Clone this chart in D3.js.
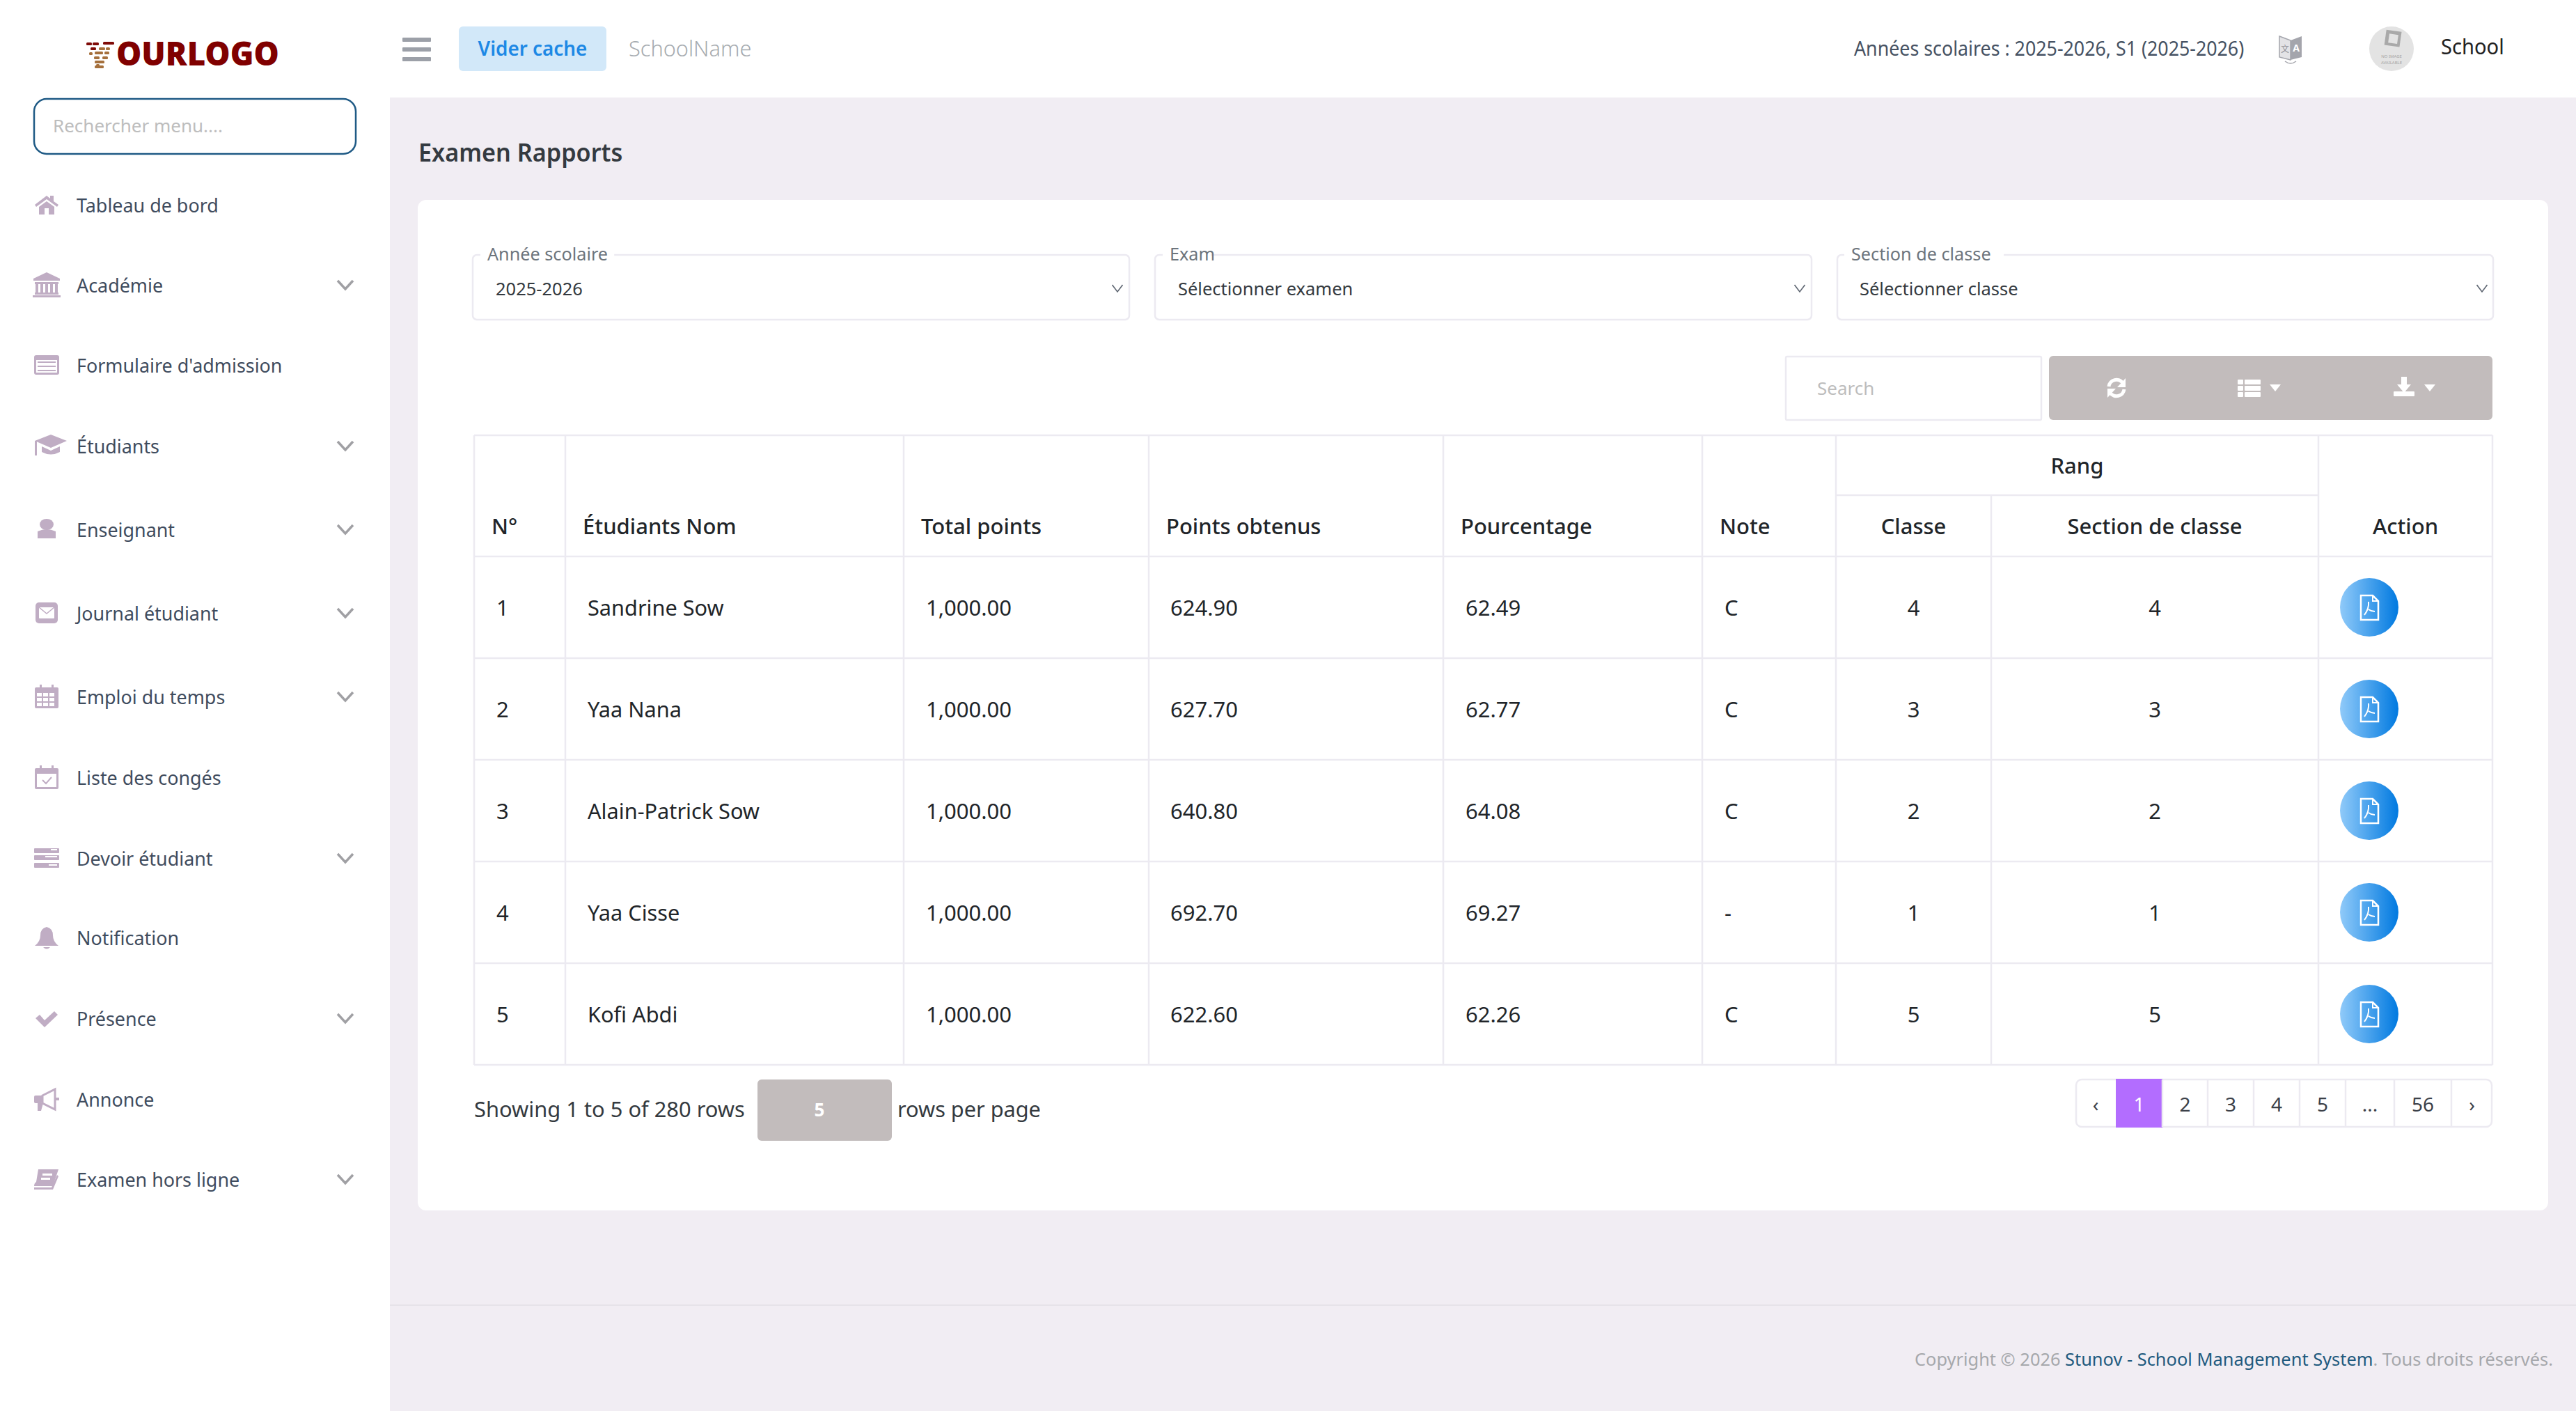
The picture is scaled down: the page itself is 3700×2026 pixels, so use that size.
<!DOCTYPE html>
<html>
<head>
<meta charset="utf-8">
<script src="https://cdn.jsdelivr.net/npm/d3@7"></script>
<style>
  html, body { margin: 0; padding: 0; background: #f1edf3; }
  svg { display: block; }
  text { font-family: "Noto Sans", sans-serif; }
</style>
</head>
<body>
<script>
// table values
const rowNumbers = [1, 2, 3, 4, 5];
const studentNames = ["Sandrine Sow", "Yaa Nana", "Alain-Patrick Sow", "Yaa Cisse", "Kofi Abdi"];
const totalPoints = [1000, 1000, 1000, 1000, 1000];
const obtainedPoints = [624.9, 627.7, 640.8, 692.7, 622.6];
const percentages = [62.49, 62.77, 64.08, 69.27, 62.26];
const notes = ["C", "C", "C", "-", "C"];
const classRanks = [4, 3, 2, 1, 5];
const sectionRanks = [4, 3, 2, 1, 5];

const columnKeys = ["num", "name", "total", "obtained", "pct", "note", "classe", "section", "action"];
const columnLabels = ["N°", "Étudiants Nom", "Total points", "Points obtenus", "Pourcentage", "Note", "Classe", "Section de classe", "Action"];

const menuLabels = ["Tableau de bord", "Académie", "Formulaire d'admission", "Étudiants", "Enseignant", "Journal étudiant", "Emploi du temps", "Liste des congés", "Devoir étudiant", "Notification", "Présence", "Annonce", "Examen hors ligne"];
const menuIcons = ["home", "bank", "form", "grad", "user", "mail", "calendar", "leave", "tasks", "bell", "check", "horn", "book"];
const menuHasChevron = [false, true, false, true, true, true, true, false, true, false, true, false, true];

const pageLabels = ["‹", "1", "2", "3", "4", "5", "...", "56", "›"];

const W = 3700, H = 2026;
const lilac = "#c0adc4", line = "#eceaf1", dark = "#212529", menuText = "#3f4c5e";

const svg = d3.select("body").append("svg").attr("width", W).attr("height", H);

const defs = svg.append("defs");
const grad = defs.append("linearGradient").attr("id", "pdfGrad");
grad.append("stop").attr("offset", "0%").attr("stop-color", "#90caf9");
grad.append("stop").attr("offset", "100%").attr("stop-color", "#0079e0");

// opts.sx squeezes the text sideways, the reference font runs narrower than Noto Sans
function txt(parent, x, y, str, size, fill, opts) {
  opts = opts || {};
  const t = parent.append("text")
    .attr("x", x).attr("y", y + 1)
    .attr("dy", "0.35em")
    .attr("font-size", size)
    .attr("fill", fill)
    .attr("font-weight", opts.weight || 400)
    .attr("text-anchor", opts.anchor || "start")
    .text(str);
  if (opts.sx) {
    t.attr("textLength", t.node().getComputedTextLength() * opts.sx)
      .attr("lengthAdjust", "spacingAndGlyphs");
  }
  return t;
}

function box(parent, x0, y0, x1, y1, fill, r, stroke, sw) {
  return parent.append("rect")
    .attr("x", x0).attr("y", y0)
    .attr("width", x1 - x0).attr("height", y1 - y0)
    .attr("rx", r || 0)
    .attr("fill", fill)
    .attr("stroke", stroke || "none")
    .attr("stroke-width", sw || 0);
}

function chevron(parent, cx, cy, w, h, color, sw) {
  parent.append("path")
    .attr("d", `M${cx - w / 2},${cy - h / 2}L${cx},${cy + h / 2}L${cx + w / 2},${cy - h / 2}`)
    .attr("fill", "none").attr("stroke", color).attr("stroke-width", sw);
}

// background panels
box(svg, 0, 0, W, H, "#f1edf3");
box(svg, 0, 0, 560, H, "#ffffff");
box(svg, 0, 0, W, 140, "#ffffff");
svg.append("line").attr("x1", 560).attr("x2", W).attr("y1", 1874).attr("y2", 1874).attr("stroke", "#e6e3e9").attr("stroke-width", 2);
box(svg, 600, 287, 3660, 1738, "#ffffff", 12);

// logo
const logo = svg.append("g");
const brickRows = [[124, 61, 8], [133, 61, 9], [148, 60, 16], [130, 68, 8], [142, 68, 9], [152, 68, 6], [128, 75, 5], [136, 74, 12], [150, 74, 7], [135, 81, 8], [147, 81, 8], [136, 87, 14], [136, 94, 13], [138, 92, 5]];
logo.selectAll("rect").data(brickRows).enter().append("rect")
  .attr("x", d => d[0]).attr("y", d => d[1]).attr("width", d => d[2]).attr("height", 4).attr("rx", 1.5)
  .attr("fill", (d, i) => i < 4 ? "#7f0b08" : "#a5703c");
txt(logo, 167, 76, "OURLOGO", 48, "#800000", { weight: 900, sx: 0.95 });

// top bar
d3.range(3).forEach(i => box(svg, 578, 54 + i * 14, 619, 60 + i * 14, "#9ca0a8", 1));
box(svg, 659, 38, 871, 102, "#d2e8f9", 6);
txt(svg, 765, 69, "Vider cache", 29, "#1e88e5", { weight: 600, anchor: "middle", sx: 0.96 });
txt(svg, 903, 69, "SchoolName", 32, "#a6abb0", { weight: 300, sx: 0.96 });
txt(svg, 2663, 69, "Années scolaires : 2025-2026, S1 (2025-2026)", 28.5, "#465263", { sx: 0.94 });

// translate icon
const tr = svg.append("g").attr("transform", "translate(3290,70)");
tr.append("path").attr("d", "M-16,-18L0,-12L0,16L-16,12Z").attr("fill", "#e3e3e6").attr("stroke", "#a4a5ac").attr("stroke-width", 1.5);
tr.append("path").attr("d", "M0,-12L16,-18L16,12L0,16Z").attr("fill", "#a4a5ac");
txt(tr, 8, -2, "A", 14, "#ffffff", { weight: 700, anchor: "middle" });
txt(tr, -8, 0, "文", 12, "#8f9097", { anchor: "middle" }).style("font-family", "'Noto Sans CJK SC'");
tr.append("path").attr("d", "M-8,18Q0,24 8,18").attr("fill", "none").attr("stroke", "#a4a5ac").attr("stroke-width", 1.5);

// avatar
const av = svg.append("g").attr("transform", "translate(3435,70)");
av.append("circle").attr("r", 32).attr("fill", "#e3e3e3");
av.append("rect").attr("x", -11).attr("y", -26).attr("width", 22).attr("height", 22).attr("fill", "#a9a9a9").attr("transform", "rotate(8)");
av.append("rect").attr("x", -6).attr("y", -21).attr("width", 13).attr("height", 13).attr("fill", "#e3e3e3").attr("transform", "rotate(8)");
txt(av, 0, 10, "NO IMAGE", 6, "#a5a5a5", { anchor: "middle" });
txt(av, 0, 19, "AVAILABLE", 6, "#a5a5a5", { anchor: "middle" });
txt(svg, 3506, 66, "School", 30, "#222222", { sx: 0.97 });

// sidebar
box(svg, 49, 142, 511, 221, "#ffffff", 18, "#1f5a85", 2.5);
txt(svg, 76, 180, "Rechercher menu....", 26, "#bdbdbd");

const iconDraw = {
  home(g) {
    g.append("path").attr("d", "M-17,0L0,-13L5,-9L5,-13L10,-13L10,-5L17,0L15,3L0,-8L-15,3Z").attr("fill", lilac);
    g.append("path").attr("d", "M-11,3L0,-5L11,3L11,14L3,14L3,5L-3,5L-3,14L-11,14Z").attr("fill", lilac);
  },
  bank(g) {
    g.append("path").attr("d", "M-19,-9L0,-18L19,-9L19,-6L-19,-6Z").attr("fill", lilac);
    box(g, -17, -4, 17, -1, lilac);
    [-14, -7, 0, 7, 14].forEach(x => box(g, x - 2, -1, x + 2, 12, lilac));
    box(g, -17, 11, 17, 14, lilac);
    box(g, -20, 15, 20, 18, lilac);
  },
  form(g) {
    box(g, -18, -14, 18, 14, lilac, 3);
    box(g, -15, -7, 15, 11, "#ffffff");
    [-4, 2, 8].forEach(y => box(g, -13, y - 1, 13, y + 1, lilac));
  },
  grad(g) {
    g.append("path").attr("d", "M-17,-7L6,-16L29,-7L6,3Z").attr("fill", lilac);
    g.append("path").attr("d", "M-7,1L6,7L19,1L19,9Q6,16 -7,9Z").attr("fill", lilac);
    box(g, -17, -7, -14, 14, lilac);
  },
  user(g) {
    g.append("ellipse").attr("cx", 0).attr("cy", -7).attr("rx", 10).attr("ry", 8).attr("fill", lilac);
    g.append("path").attr("d", "M-13,3Q0,-3 13,3L13,13L-13,13Z").attr("fill", lilac);
  },
  mail(g) {
    box(g, -16, -15, 16, 15, lilac, 5);
    box(g, -11, -8, 11, 8, "#ffffff", 1);
    g.append("path").attr("d", "M-11,-8L0,1L11,-8").attr("fill", "none").attr("stroke", lilac).attr("stroke-width", 1.5);
  },
  calendar(g) {
    box(g, -17, -13, 17, 17, lilac, 2);
    box(g, -10, -17, -7, -10, lilac);
    box(g, 7, -17, 10, -10, lilac);
    [[-14, -5], [-5, -5], [4, -5], [-14, 2], [-5, 2], [4, 2], [-14, 9], [-5, 9], [4, 9]].forEach(d => box(g, d[0], d[1], d[0] + 7, d[1] + 5, "#ffffff"));
  },
  leave(g) {
    box(g, -17, -13, 17, 17, lilac, 2);
    box(g, -10, -17, -7, -10, lilac);
    box(g, 7, -17, 10, -10, lilac);
    box(g, -14, -5, 14, 14, "#ffffff");
    g.append("path").attr("d", "M-6,4L-1,9L7,0").attr("fill", "none").attr("stroke", lilac).attr("stroke-width", 2);
  },
  tasks(g) {
    [-14, -4, 7].forEach(y => box(g, -18, y, 18, y + 7, lilac, 1));
    box(g, 6, -13, 15, -11, "#ffffff");
    box(g, -2, -3, 15, -1, "#ffffff");
    box(g, 3, 9, 15, 11, "#ffffff");
  },
  bell(g) {
    g.append("path").attr("d", "M-17,12Q-9,6 -9,-3Q-9,-13 0,-15Q9,-13 9,-3Q9,6 17,12Z").attr("fill", lilac);
    g.append("path").attr("d", "M-5,14Q0,19 5,14Z").attr("fill", lilac);
  },
  check(g) {
    g.append("path").attr("d", "M-16,0L-10,-5L-3,3L11,-10L16,-5L-3,13Z").attr("fill", lilac);
  },
  horn(g) {
    box(g, -18, -5, -6, 6, lilac, 2);
    g.append("path").attr("d", "M-6,-5L12,-14L12,15L-6,6Z").attr("fill", "#ffffff").attr("stroke", lilac).attr("stroke-width", 3);
    g.append("path").attr("d", "M-13,6L-5,6L-8,17L-13,17Z").attr("fill", lilac);
    box(g, 12, -2, 18, 2, lilac);
  },
  book(g) {
    g.append("path").attr("d", "M-12,-14L17,-14L9,10L-18,10Q-18,6 -15,4Z").attr("fill", lilac);
    g.append("path").attr("d", "M-18,12L7,12L15,-6L17,-4L9,15L-18,15Z").attr("fill", lilac);
    box(g, -6, -8, 8, -5, "#ffffff");
    box(g, -8, -2, 5, 1, "#ffffff");
  }
};

const menuY = d3.scaleOrdinal().domain(menuLabels)
  .range([294, 409, 524, 640, 760, 880, 1000, 1116, 1232, 1346, 1462, 1578, 1693]);

const menu = svg.selectAll(".menu").data(menuLabels).enter().append("g")
  .attr("class", "menu")
  .attr("transform", d => `translate(0,${menuY(d)})`);

menu.each(function (d, i) {
  const g = d3.select(this);
  iconDraw[menuIcons[i]](g.append("g").attr("transform", "translate(67,0)"));
  txt(g, 110, 0, d, 28, menuText, { sx: 0.96 });
  if (menuHasChevron[i]) chevron(g, 496, 0, 22, 12, "#a0a0a4", 3.5);
});

// page title
txt(svg, 601, 218, "Examen Rapports", 36, "#343a40", { weight: 600, sx: 0.95 });

// filter fields
function field(x0, x1, label, value, labelX, valueX, chevX) {
  const g = svg.append("g");
  box(g, x0, 366, x1, 459, "none", 6, line, 2.5);
  const w = label.length * 12.3;
  box(g, labelX - 10, 358, labelX + w + 10, 372, "#ffffff");
  txt(g, labelX, 364, label, 26, "#6d757d", { sx: 0.97 });
  txt(g, valueX, 414, value, 26, "#343a40", { sx: 0.98 });
  chevron(g, chevX, 414, 15, 10, "#5c6470", 1.6);
}
field(679, 1622, "Année scolaire", "2025-2026", 700, 712, 1605);
field(1659, 2602, "Exam", "Sélectionner examen", 1680, 1692, 2585);
field(2639, 3581, "Section de classe", "Sélectionner classe", 2659, 2671, 3565);

// toolbar
box(svg, 2565, 512, 2932, 603, "#ffffff", 2, line, 2.5);
txt(svg, 2610, 557, "Search", 26, "#bdbdbd");
box(svg, 2943, 511, 3580, 603, "#c2bcbc", 6);
const refresh = svg.append("g").attr("transform", "translate(3040,557)");
refresh.append("path").attr("d", "M-11,-2A11,11 0 0 1 9,-7").attr("fill", "none").attr("stroke", "#fff").attr("stroke-width", 5);
refresh.append("path").attr("d", "M11,2A11,11 0 0 1 -9,7").attr("fill", "none").attr("stroke", "#fff").attr("stroke-width", 5);
refresh.append("path").attr("d", "M13,-14L13,-1L1,-1Z").attr("fill", "#fff");
refresh.append("path").attr("d", "M-13,14L-13,1L-1,1Z").attr("fill", "#fff");
[-12, -3, 6].forEach(y => {
  box(svg, 3214, 557 + y, 3222, 557 + y + 7, "#ffffff", 1);
  box(svg, 3224, 557 + y, 3247, 557 + y + 7, "#ffffff", 1);
});
[3268, 3490].forEach(x => svg.append("path").attr("d", `M${x - 8},552L${x + 8},552L${x},562Z`).attr("fill", "#fff"));
svg.append("path").attr("d", "M3449,541L3457,541L3457,552L3463,552L3453,564L3443,552L3449,552Z").attr("fill", "#fff");
box(svg, 3438, 562, 3468, 569, "#ffffff", 1);

// table scales
const colX = d3.scaleOrdinal().domain(columnKeys).range([681, 812, 1298, 1650, 2073, 2445, 2637, 2860, 3330]);
const colEnd = d3.scaleOrdinal().domain(columnKeys).range([812, 1298, 1650, 2073, 2445, 2637, 2860, 3330, 3580]);
const rowY = d3.scaleBand().domain(rowNumbers).range([799, 1529]);
const tableTop = 625, rangY = 711, headerY = 755;
const colMid = k => (colX(k) + colEnd(k)) / 2;
const fmt = d3.format(",.2f");

// table grid
const grid = svg.append("g").attr("stroke", line).attr("stroke-width", 2.5);
const hline = (x0, x1, y) => grid.append("line").attr("x1", x0).attr("x2", x1).attr("y1", y).attr("y2", y);
const vline = (x, y0, y1) => grid.append("line").attr("x1", x).attr("x2", x).attr("y1", y0).attr("y2", y1);
hline(colX("num"), colEnd("action"), tableTop);
hline(colX("num"), colEnd("action"), rowY(1));
rowNumbers.forEach(n => hline(colX("num"), colEnd("action"), rowY(n) + rowY.bandwidth()));
hline(colX("classe"), colEnd("section"), rangY);
columnKeys.forEach(k => vline(colX(k), k === "section" ? rangY : tableTop, rowY.range()[1]));
vline(colEnd("action"), tableTop, rowY.range()[1]);

// table header
columnKeys.forEach((k, i) => {
  const centered = k === "classe" || k === "section";
  if (k === "action") txt(svg, colMid(k), headerY, columnLabels[i], 31, dark, { weight: 500, anchor: "middle" });
  else txt(svg, centered ? colMid(k) : colX(k) + 25, headerY, columnLabels[i], 31, dark, { weight: 500, anchor: centered ? "middle" : "start" });
});
txt(svg, (colX("classe") + colEnd("section")) / 2, 668, "Rang", 31, dark, { weight: 500, anchor: "middle" });

// table rows
const rows = svg.selectAll(".row").data(rowNumbers).enter().append("g")
  .attr("class", "row")
  .attr("transform", d => `translate(0,${rowY(d) + rowY.bandwidth() / 2})`);

rows.each(function (n, i) {
  const g = d3.select(this);
  txt(g, colX("num") + 32, 0, n, 31, dark);
  txt(g, colX("name") + 32, 0, studentNames[i], 31, dark, { sx: 0.99 });
  txt(g, colX("total") + 32, 0, fmt(totalPoints[i]), 31, dark);
  txt(g, colX("obtained") + 31, 0, fmt(obtainedPoints[i]), 31, dark);
  txt(g, colX("pct") + 32, 0, fmt(percentages[i]), 31, dark);
  txt(g, colX("note") + 32, 0, notes[i], 31, dark);
  txt(g, colMid("classe"), 0, classRanks[i], 31, dark, { anchor: "middle" });
  txt(g, colMid("section"), 0, sectionRanks[i], 31, dark, { anchor: "middle" });

  const b = g.append("g").attr("transform", `translate(${colX("action") + 73},0)`);
  b.append("circle").attr("r", 42).attr("fill", "url(#pdfGrad)");
  b.append("path").attr("d", "M-12,-17L5,-17L13,-9L13,18L-12,18Z").attr("fill", "none").attr("stroke", "#fff").attr("stroke-width", 2.5);
  b.append("path").attr("d", "M5,-17L5,-9L13,-9").attr("fill", "none").attr("stroke", "#fff").attr("stroke-width", 2);
  b.append("path").attr("d", "M-1,-8Q0,2 -7,11M-1,3Q3,6 8,6").attr("fill", "none").attr("stroke", "#fff").attr("stroke-width", 2);
});

// table footer
txt(svg, 681, 1592, "Showing 1 to 5 of 280 rows", 31, "#343a40", { sx: 0.995 });
box(svg, 1088, 1550, 1281, 1638, "#c2bcbc", 6);
txt(svg, 1177, 1593, "5", 26, "#ffffff", { weight: 700, anchor: "middle" });
txt(svg, 1289, 1592, "rows per page", 31, "#343a40", { sx: 0.99 });

// pagination
const pageEdges = [2981, 3039, 3106, 3171, 3237, 3303, 3369, 3439, 3521, 3580];
const pageX = d3.scaleOrdinal().domain(pageLabels.map((d, i) => i)).range(pageEdges);
box(svg, 2982, 1550, 3579, 1618, "#ffffff", 8, line, 2.5);
pageLabels.forEach((d, i) => {
  const x0 = pageX(i), x1 = pageEdges[i + 1];
  if (d === "1") box(svg, x0, 1549, x1, 1619, "#b36dff");
  else if (i > 1) svg.append("line").attr("x1", x0).attr("x2", x0).attr("y1", 1550).attr("y2", 1618).attr("stroke", line).attr("stroke-width", 2.5);
  txt(svg, (x0 + x1) / 2, 1585, d, 28, d === "1" ? "#ffffff" : "#3c4149", { anchor: "middle" });
});

// footer, one text so the three colours run on without overlap
const foot = svg.append("text")
  .attr("x", 2750).attr("y", 1952).attr("dy", "0.35em")
  .attr("font-size", 26).attr("fill", "#a6a8ac");
foot.append("tspan").text("Copyright © 2026 ");
foot.append("tspan").attr("fill", "#1f5a7e").text("Stunov - School Management System");
foot.append("tspan").text(". Tous droits réservés.");
foot.attr("textLength", 917).attr("lengthAdjust", "spacingAndGlyphs");
</script>
</body>
</html>
